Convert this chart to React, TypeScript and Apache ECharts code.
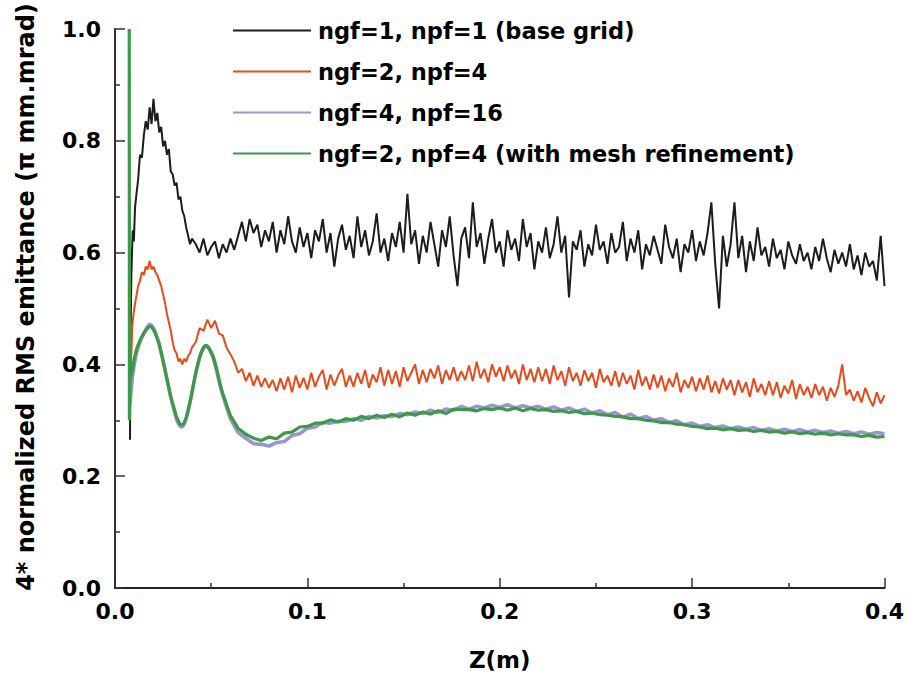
import React, { useEffect, useRef } from "react";
import * as echarts from "echarts";

// ---------- data ----------
const seriesNames = [
  "ngf=1, npf=1 (base grid)",
  "ngf=2, npf=4",
  "ngf=4, npf=16",
  "ngf=2, npf=4 (with mesh refinement)",
];
const yAxisTitle = "4* normalized RMS emittance (π mm.mrad)";
const xAxisTitle = "Z(m)";
const xTicks = [0, 0.1, 0.2, 0.3, 0.4];
const yTicks = [0, 0.2, 0.4, 0.6, 0.8, 1.0];

// early part (z < 0.041) read point by point
const baseEarly = [
  [0.0078, 0.265], [0.008, 0.42], [0.0085, 0.56], [0.0092, 0.64], [0.0098, 0.62], [0.0104, 0.68],
  [0.011, 0.7], [0.012, 0.73], [0.013, 0.775], [0.014, 0.77], [0.015, 0.81], [0.016, 0.835],
  [0.017, 0.82], [0.018, 0.86], [0.019, 0.83], [0.02, 0.875], [0.021, 0.835], [0.022, 0.85],
  [0.023, 0.815], [0.024, 0.825], [0.025, 0.79], [0.026, 0.8], [0.027, 0.775], [0.028, 0.785],
  [0.029, 0.745], [0.03, 0.74], [0.031, 0.72], [0.032, 0.725], [0.033, 0.695], [0.034, 0.7],
  [0.035, 0.675], [0.036, 0.665], [0.037, 0.645], [0.038, 0.63], [0.039, 0.615], [0.04, 0.625],
];
// z = 0.042 ... 0.400, step 0.002
const baseZStart = 0.042;
const baseZStep = 0.002;
const baseRest = [
  0.615, 0.6, 0.625, 0.595, 0.61, 0.62, 0.59, 0.615, 0.6, 0.625,
  0.605, 0.63, 0.655, 0.62, 0.66, 0.635, 0.65, 0.61, 0.64, 0.62,
  0.655, 0.6, 0.64, 0.615, 0.665, 0.62, 0.6, 0.645, 0.61, 0.635,
  0.59, 0.64, 0.62, 0.66, 0.6, 0.635, 0.575, 0.625, 0.65, 0.605,
  0.63, 0.59, 0.665, 0.61, 0.64, 0.595, 0.62, 0.67, 0.6, 0.625,
  0.585, 0.635, 0.61, 0.655, 0.6, 0.705, 0.615, 0.64, 0.58, 0.63,
  0.6, 0.655, 0.615, 0.575, 0.64, 0.61, 0.665, 0.595, 0.54, 0.625,
  0.645, 0.59, 0.69, 0.61, 0.635, 0.58, 0.625, 0.66, 0.6, 0.62,
  0.575, 0.64, 0.605, 0.625, 0.585, 0.66, 0.61, 0.635, 0.57, 0.62,
  0.6, 0.645, 0.59, 0.615, 0.665, 0.6, 0.63, 0.52, 0.62, 0.605,
  0.64, 0.575, 0.615, 0.595, 0.65, 0.605, 0.62, 0.58, 0.635, 0.6,
  0.61, 0.655, 0.585, 0.625, 0.6, 0.64, 0.57, 0.615, 0.595, 0.63,
  0.605, 0.58, 0.65, 0.61, 0.59, 0.625, 0.565, 0.615, 0.6, 0.64,
  0.585, 0.62, 0.595, 0.635, 0.69, 0.58, 0.5, 0.63, 0.575, 0.615,
  0.69, 0.59, 0.63, 0.565, 0.62, 0.585, 0.645, 0.595, 0.61, 0.575,
  0.625, 0.59, 0.605, 0.57, 0.62, 0.595, 0.58, 0.615, 0.585, 0.6,
  0.57, 0.61, 0.585, 0.625, 0.59, 0.565, 0.605, 0.58, 0.6, 0.575,
  0.615, 0.57, 0.595, 0.56, 0.6, 0.575, 0.585, 0.55, 0.63, 0.54,
];

const redEarly = [
  [0.0078, 0.36], [0.0085, 0.42], [0.009, 0.47], [0.01, 0.5], [0.011, 0.52], [0.012, 0.54],
  [0.013, 0.55], [0.014, 0.565], [0.015, 0.56], [0.016, 0.575], [0.017, 0.57], [0.018, 0.585],
  [0.019, 0.57], [0.02, 0.575], [0.021, 0.565], [0.022, 0.56], [0.023, 0.55], [0.024, 0.54],
  [0.025, 0.525], [0.026, 0.51], [0.027, 0.49], [0.028, 0.475], [0.029, 0.46], [0.03, 0.44],
  [0.031, 0.425], [0.032, 0.42], [0.033, 0.405], [0.034, 0.41], [0.035, 0.4], [0.036, 0.41],
  [0.037, 0.405], [0.038, 0.415], [0.039, 0.42], [0.04, 0.43],
];
const redRest = [
  0.44, 0.465, 0.46, 0.48, 0.465, 0.478, 0.455, 0.452, 0.43, 0.418,
  0.405, 0.385, 0.392, 0.37, 0.385, 0.362, 0.38, 0.36, 0.375, 0.358,
  0.372, 0.352, 0.375, 0.355, 0.378, 0.35, 0.38, 0.358, 0.376, 0.355,
  0.385, 0.36, 0.378, 0.39, 0.355, 0.382, 0.362, 0.38, 0.392, 0.36,
  0.38, 0.36, 0.385, 0.365, 0.39, 0.358, 0.382, 0.368, 0.395, 0.362,
  0.39, 0.365, 0.388, 0.36, 0.395, 0.37, 0.385, 0.4, 0.365, 0.39,
  0.368, 0.392, 0.375, 0.398, 0.365, 0.39, 0.372, 0.395, 0.37, 0.388,
  0.372, 0.398, 0.37, 0.405, 0.375, 0.392, 0.368, 0.4, 0.378, 0.395,
  0.37, 0.398, 0.375, 0.39, 0.365, 0.4, 0.372, 0.392, 0.368, 0.395,
  0.37, 0.392, 0.365, 0.398, 0.372, 0.388, 0.362, 0.395, 0.37, 0.385,
  0.362, 0.39, 0.37, 0.385, 0.358, 0.392, 0.368, 0.38, 0.362, 0.388,
  0.36, 0.385, 0.365, 0.38, 0.355, 0.39, 0.362, 0.378, 0.355, 0.382,
  0.358, 0.38, 0.352, 0.375, 0.36, 0.385, 0.35, 0.372, 0.358, 0.378,
  0.352, 0.375, 0.355, 0.38, 0.35, 0.37, 0.348, 0.375, 0.355, 0.372,
  0.345, 0.372, 0.35, 0.368, 0.342, 0.375, 0.35, 0.365, 0.345, 0.37,
  0.345, 0.368, 0.34, 0.362, 0.348, 0.372, 0.338, 0.365, 0.345, 0.36,
  0.34, 0.365, 0.345, 0.36, 0.335, 0.358, 0.342, 0.362, 0.4, 0.345,
  0.355, 0.335, 0.352, 0.332, 0.358, 0.34, 0.325, 0.35, 0.33, 0.345,
];

const purpleEarly = [
  [0.0078, 0.33], [0.009, 0.375], [0.01, 0.4], [0.011, 0.418], [0.012, 0.43], [0.013, 0.44],
  [0.014, 0.448], [0.015, 0.455], [0.016, 0.462], [0.017, 0.468], [0.018, 0.472], [0.019, 0.47],
  [0.02, 0.465], [0.021, 0.457], [0.022, 0.447], [0.023, 0.436], [0.024, 0.421], [0.025, 0.406],
  [0.026, 0.39], [0.027, 0.373], [0.028, 0.357], [0.029, 0.341], [0.03, 0.327], [0.031, 0.314],
  [0.032, 0.302], [0.033, 0.294], [0.034, 0.289], [0.035, 0.288], [0.036, 0.293], [0.037, 0.303],
  [0.038, 0.316], [0.039, 0.332], [0.04, 0.349], [0.041, 0.367], [0.042, 0.384], [0.043, 0.399],
  [0.044, 0.412], [0.045, 0.422], [0.046, 0.429], [0.047, 0.433], [0.048, 0.432], [0.049, 0.428],
  [0.05, 0.42], [0.051, 0.412], [0.052, 0.4], [0.053, 0.386], [0.054, 0.371], [0.055, 0.357],
  [0.056, 0.345], [0.057, 0.334], [0.058, 0.323], [0.059, 0.313], [0.06, 0.303],
];
// z = 0.064 ... 0.400, step 0.004
const smoothZStart = 0.064;
const smoothZStep = 0.004;
const purpleRest = [
  0.278, 0.268, 0.258, 0.257, 0.254, 0.26, 0.262, 0.273, 0.276, 0.286,
  0.288, 0.296, 0.295, 0.298, 0.298, 0.303, 0.3, 0.307, 0.304, 0.308,
  0.307, 0.312, 0.31, 0.315, 0.312, 0.318, 0.314, 0.32, 0.318, 0.325,
  0.32, 0.325, 0.322, 0.327, 0.323, 0.328, 0.322, 0.326, 0.322, 0.325,
  0.32, 0.324, 0.318, 0.322, 0.316, 0.32, 0.313, 0.317, 0.31, 0.314,
  0.306, 0.311, 0.303, 0.307, 0.3, 0.303, 0.296, 0.299, 0.292, 0.295,
  0.289, 0.292, 0.287, 0.29, 0.285, 0.288, 0.284, 0.287, 0.282, 0.285,
  0.281, 0.284, 0.28, 0.283, 0.279, 0.282, 0.278, 0.281, 0.277, 0.28,
  0.276, 0.279, 0.275, 0.278, 0.276,
];

const greenEarly = [
  [0.0074, 1.0], [0.0075, 0.3], [0.0078, 0.37], [0.009, 0.39], [0.01, 0.41], [0.011, 0.425],
  [0.012, 0.435], [0.013, 0.443], [0.014, 0.45], [0.015, 0.456], [0.016, 0.461], [0.017, 0.465],
  [0.018, 0.468], [0.019, 0.467], [0.02, 0.462], [0.021, 0.455], [0.022, 0.446], [0.023, 0.436],
  [0.024, 0.421], [0.025, 0.406], [0.026, 0.39], [0.027, 0.374], [0.028, 0.358], [0.029, 0.342],
  [0.03, 0.33], [0.031, 0.318], [0.032, 0.306], [0.033, 0.298], [0.034, 0.292], [0.035, 0.292],
  [0.036, 0.296], [0.037, 0.305], [0.038, 0.318], [0.039, 0.333], [0.04, 0.35], [0.041, 0.368],
  [0.042, 0.385], [0.043, 0.4], [0.044, 0.413], [0.045, 0.423], [0.046, 0.43], [0.047, 0.434],
  [0.048, 0.433], [0.049, 0.428], [0.05, 0.422], [0.051, 0.415], [0.052, 0.403], [0.053, 0.39],
  [0.054, 0.374], [0.055, 0.36], [0.056, 0.348], [0.057, 0.338], [0.058, 0.328], [0.059, 0.318],
  [0.06, 0.308],
];
const greenRest = [
  0.286, 0.275, 0.268, 0.264, 0.27, 0.267, 0.277, 0.279, 0.288, 0.289,
  0.295, 0.295, 0.301, 0.297, 0.303, 0.3, 0.307, 0.303, 0.309, 0.305,
  0.311, 0.306, 0.313, 0.309, 0.315, 0.311, 0.317, 0.312, 0.32, 0.319,
  0.319, 0.317, 0.321, 0.319, 0.322, 0.318, 0.322, 0.317, 0.321, 0.318,
  0.319, 0.316, 0.317, 0.314, 0.316, 0.312, 0.313, 0.31, 0.309, 0.307,
  0.306, 0.303, 0.303, 0.3, 0.299, 0.296, 0.296, 0.293, 0.292, 0.289,
  0.288, 0.285, 0.286, 0.283, 0.285, 0.282, 0.283, 0.28, 0.282, 0.279,
  0.28, 0.277, 0.279, 0.276, 0.278, 0.275, 0.277, 0.274, 0.276, 0.274,
  0.274, 0.271, 0.273, 0.27, 0.271,
];

const seriesColors = ["#1c1c1c", "#e84a1c", "#9a94d2", "#3c9a46"];

function join(early: number[][], rest: number[], start: number, step: number) {
  return early.concat(rest.map((v, i) => [+(start + i * step).toFixed(4), v]));
}

export default function App() {
  const ref = useRef<HTMLDivElement>(null);
  useEffect(() => {
    if (!ref.current) return;
    const chart = echarts.init(ref.current, undefined, { renderer: "svg" });
    const font = "DejaVu Sans";
    const datasets = [
      join(baseEarly, baseRest, baseZStart, baseZStep),
      join(redEarly, redRest, baseZStart, baseZStep),
      join(purpleEarly, purpleRest, smoothZStart, smoothZStep),
      join(greenEarly, greenRest, smoothZStart, smoothZStep),
    ];
    const widths = [2, 2, 3.6, 3.2];
    chart.setOption({
      animation: false,
      backgroundColor: "#ffffff",
      grid: { left: 115, right: 19, top: 29, bottom: 93, containLabel: false },
      graphic: [
        {
          type: "text",
          x: 26,
          y: 297,
          rotation: Math.PI / 2,
          style: {
            text: yAxisTitle,
            fontFamily: font,
            fontWeight: "bold",
            fontSize: 24,
            fill: "#000",
            textAlign: "center",
            textVerticalAlign: "middle",
          },
        },
      ],
      legend: {
        orient: "vertical",
        left: 233,
        top: 10,
        padding: 0,
        itemGap: 0,
        itemWidth: 78,
        itemHeight: 2,
        icon: "rect",
        data: seriesNames,
        textStyle: {
          fontFamily: font,
          fontWeight: "bold",
          fontSize: 22.5,
          lineHeight: 41,
          color: "#000",
          padding: [0, 0, 0, 2],
        },
      },
      xAxis: {
        type: "value",
        min: 0,
        max: 0.4,
        interval: 0.1,
        name: xAxisTitle,
        nameLocation: "middle",
        nameGap: 60,
        nameTextStyle: { fontFamily: font, fontWeight: "bold", fontSize: 23, color: "#000" },
        axisLine: { show: true, onZero: false, lineStyle: { color: "#222", width: 2 } },
        axisTick: { show: true, inside: true, length: 10, lineStyle: { color: "#333", width: 1.5 } },
        minorTick: { show: true, splitNumber: 2, length: 5, lineStyle: { color: "#333", width: 1.5 } },
        splitLine: { show: false },
        axisLabel: {
          margin: 12,
          fontFamily: font,
          fontWeight: "bold",
          fontSize: 22,
          color: "#000",
          formatter: (v: number) => v.toFixed(1),
          customValues: xTicks,
        },
      },
      yAxis: {
        type: "value",
        min: 0,
        max: 1.0,
        interval: 0.2,
        axisLine: { show: true, onZero: false, lineStyle: { color: "#333", width: 2 } },
        axisTick: { show: true, inside: true, length: 10, lineStyle: { color: "#333", width: 1.5 } },
        minorTick: { show: true, splitNumber: 2, length: 5, lineStyle: { color: "#333", width: 1.5 } },
        splitLine: { show: false },
        axisLabel: {
          margin: 14,
          fontFamily: font,
          fontWeight: "bold",
          fontSize: 22,
          color: "#000",
          formatter: (v: number) => v.toFixed(1),
          customValues: yTicks,
        },
      },
      series: seriesNames.map((name, i) => ({
        name,
        type: "line",
        data: datasets[i],
        showSymbol: false,
        symbol: "none",
        clip: true,
        itemStyle: { color: seriesColors[i] },
        lineStyle: { color: seriesColors[i], width: widths[i] },
        z: 2 + i,
      })),
    });
    return () => chart.dispose();
  }, []);
  return (
    <div
      ref={ref}
      style={{ position: "fixed", left: 0, top: 0, width: 907, height: 681, background: "#fff" }}
    />
  );
}
